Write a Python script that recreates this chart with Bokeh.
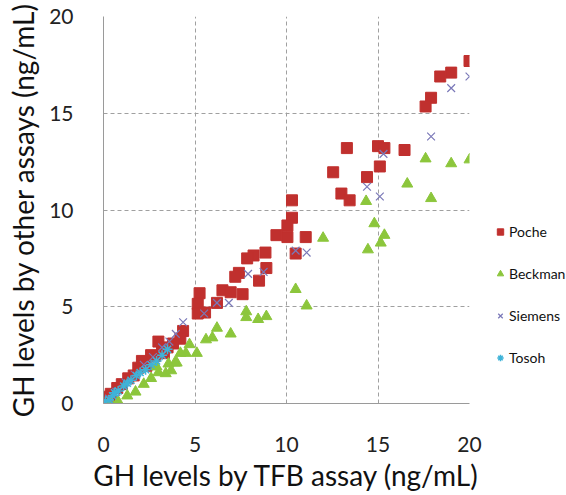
from bokeh.plotting import figure
from bokeh.layouts import row
from bokeh.models import Range1d, Legend, LegendItem
from bokeh.embed import file_html
from bokeh.resources import INLINE

# ---- data ----
poche_x = [20.0, 19.0, 18.4, 17.9, 17.6, 13.3, 15.0, 15.35, 16.45, 15.1, 14.4, 12.55, 13.0, 13.45,
           10.3, 10.3, 10.05, 10.05, 11.05, 10.5, 9.45, 8.85, 8.2, 7.85, 8.9, 7.4, 7.2, 8.5,
           6.5, 6.95, 7.6, 5.25, 5.15, 6.2, 5.15, 5.55, 4.35, 4.2, 3.8, 3.5, 3.2, 3.3, 2.8,
           2.6, 2.35, 1.9, 1.65, 1.35, 1.0, 0.75, 0.4, 0.15, 0.3, 2.1, 3.0]
poche_y = [17.7, 17.1, 16.9, 15.8, 15.35, 13.2, 13.3, 13.2, 13.1, 12.25, 11.7, 11.95, 10.85, 10.5,
           10.5, 9.6, 9.2, 8.6, 8.6, 7.75, 8.7, 7.8, 7.65, 7.5, 7.0, 6.75, 6.55, 6.35,
           5.85, 5.75, 5.65, 5.7, 5.15, 5.2, 4.65, 4.7, 3.75, 3.35, 3.1, 2.9, 2.85, 2.6, 2.45,
           2.5, 1.95, 1.85, 1.45, 1.3, 1.0, 0.8, 0.5, 0.2, 0.35, 2.2, 3.2]

beckman_x = [17.6, 19.0, 20.0, 16.6, 17.9, 14.35, 14.8, 15.35, 15.15, 14.45, 12.0, 10.5, 11.1,
             7.8, 7.8, 8.45, 8.9, 6.95, 6.2, 5.95, 5.6, 5.1, 4.7, 4.5, 4.2, 4.0, 3.9, 3.55,
             3.4, 3.0, 2.6, 2.2, 1.75, 1.3, 0.8, 0.4, 2.9, 3.7]
beckman_y = [12.65, 12.4, 12.6, 11.35, 10.6, 10.45, 9.3, 8.7, 8.3, 7.95, 8.55, 5.9, 5.05,
             4.75, 4.45, 4.35, 4.5, 3.6, 3.9, 3.4, 3.3, 2.6, 3.05, 2.6, 2.6, 2.1, 2.1, 2.05,
             1.55, 1.6, 1.3, 1.0, 0.6, 0.4, 0.1, 0.05, 1.9, 1.7]

siemens_x = [20.0, 19.0, 17.9, 15.3, 14.4, 15.1, 10.5, 11.1, 7.9, 8.75, 6.85, 6.2, 5.5, 4.35,
             3.95, 3.6, 3.2, 2.7, 2.2, 1.7, 1.2, 0.7, 0.3]
siemens_y = [16.9, 16.3, 13.8, 12.9, 11.2, 10.7, 7.9, 7.8, 6.7, 6.8, 5.2, 5.2, 4.65, 4.2,
             3.6, 3.2, 2.9, 2.4, 2.0, 1.5, 1.1, 0.6, 0.25]

tosoh_x = [0.1, 0.3, 0.5, 0.8, 1.1, 1.5, 1.8, 2.0, 2.3, 2.6, 2.9, 3.2, 3.5, 0.6, 1.3]
tosoh_y = [0.1, 0.2, 0.4, 0.65, 0.9, 1.2, 1.45, 1.6, 1.75, 2.0, 2.2, 2.5, 2.8, 0.55, 1.05]

ticks = [0, 5, 10, 15, 20]
x_label = "GH levels by TFB assay (ng/mL)"
y_label = "GH levels by other assays (ng/mL)"
series_names = ["Poche", "Beckman", "Siemens", "Tosoh"]

FONT = "Lato"
styles = [
    dict(marker="square", size=11, fill_color="#c0302e", line_color="#c0302e"),
    dict(marker="triangle", size=11, fill_color="#8cc63c", line_color="#8cc63c"),
    dict(marker="x", size=11, line_color="#7a78b8", line_width=1.2),
    dict(marker="asterisk", size=10, line_color="#3fb3d8", line_width=1.5),
]

p = figure(width=486, height=495, output_backend="svg", toolbar_location=None,
           x_range=Range1d(0, 20), y_range=Range1d(0, 20),
           min_border_left=103, min_border_right=17, min_border_top=16, min_border_bottom=92)
p.outline_line_color = None
p.background_fill_color = "white"
p.border_fill_color = "white"

for ax in (p.xaxis[0], p.yaxis[0]):
    ax.major_tick_line_color = None
    ax.minor_tick_line_color = None
    ax.axis_line_color = "#9a9a9a"
    ax.axis_line_width = 1
    ax.major_label_text_font = FONT
    ax.major_label_text_font_size = "21px"
    ax.major_label_text_color = "#222222"
    ax.axis_label_text_font = FONT
    ax.axis_label_text_font_size = "28px"
    ax.axis_label_text_font_style = "normal"
    ax.axis_label_text_color = "#111111"

p.xaxis.ticker = ticks
p.yaxis.ticker = ticks
p.xaxis.axis_label = x_label
p.yaxis.axis_label = y_label
p.xaxis.major_label_standoff = 27
p.yaxis.major_label_standoff = 24
p.xaxis.axis_label_standoff = 3
p.yaxis.axis_label_standoff = 6

for g in (p.xgrid[0], p.ygrid[0]):
    g.grid_line_color = "#a0a0a0"
    g.grid_line_dash = "4 3"
    g.grid_line_width = 1

xs = [poche_x, beckman_x, siemens_x, tosoh_x]
ys = [poche_y, beckman_y, siemens_y, tosoh_y]
for x, y, st in zip(xs, ys, styles):
    p.scatter(x, y, **st)

# legend panel (separate, unclipped area to the right of the plot)
lf = figure(width=80, height=495, output_backend="svg", toolbar_location=None,
            x_axis_location=None, y_axis_location=None,
            x_range=Range1d(0, 1), y_range=Range1d(0, 1),
            min_border=0, min_border_left=0, min_border_right=0,
            min_border_top=0, min_border_bottom=0)
lf.outline_line_color = None
lf.xgrid.visible = False
lf.ygrid.visible = False
items = []
nan = float("nan")
for name, st in zip(series_names, styles):
    r = lf.scatter([nan], [nan], **st)
    items.append(LegendItem(label=name, renderers=[r]))

legend = Legend(items=items, location=(6, 33), orientation="vertical")
legend.border_line_color = None
legend.background_fill_alpha = 0
legend.padding = 0
legend.margin = 0
legend.spacing = 17
legend.glyph_width = 16
legend.glyph_height = 25
legend.label_height = 25
legend.label_standoff = 1
legend.label_text_font = FONT
legend.label_text_font_size = "14px"
legend.label_text_color = "#111111"
lf.add_layout(legend, "center")

layout = row(p, lf)
open("out.html", "w").write(file_html(layout, INLINE))
